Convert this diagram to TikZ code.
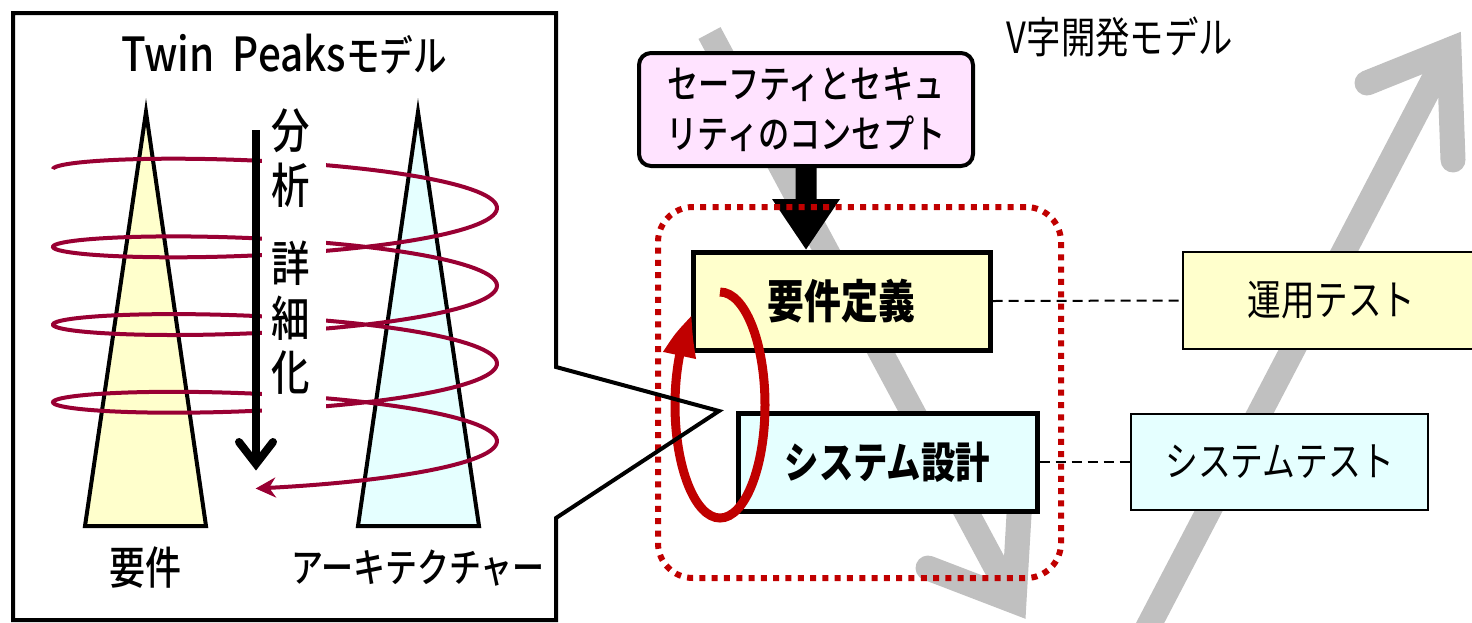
\documentclass[tikz,border=0pt]{standalone}
\usepackage{fontspec}
\usetikzlibrary{arrows.meta,bending,calc}
\newfontfamily\jp[FakeStretch=0.8]{Noto Sans CJK JP}
\IfFontExistsTF{Noto Sans CJK JP Medium}{%
  \newfontfamily\jpm[FakeStretch=0.8]{Noto Sans CJK JP Medium}%
  \newfontfamily\jplatm[FakeStretch=0.86]{Noto Sans CJK JP Medium}}{%
  \newfontfamily\jplatb[FakeStretch=0.86]{Noto Sans CJK JP}%
  \newcommand\jpm{\jp\bfseries}\newcommand\jplatm{\jplatb\bfseries}}
\newcommand\setfs[1]{\fontsize{#1}{#1}\selectfont}
\definecolor{ylw}{HTML}{FFFFCC}
\definecolor{cyn}{HTML}{E5FFFF}
\definecolor{pnk}{HTML}{FFE3FF}
\definecolor{spiralc}{HTML}{990033}
\definecolor{dred}{HTML}{C00000}
\definecolor{vgray}{HTML}{C0C0C0}
\tikzset{
  txt/.style={inner sep=0pt},
  bx/.style={draw, inner sep=0pt},
  gline/.style={vgray, line width=25pt},
  gbarb/.style={vgray, line width=25pt, line cap=round, line join=miter},
  dashline/.style={dash pattern=on 10pt off 6pt, line width=2pt},
}
\begin{document}
\begin{tikzpicture}[x=1pt,y=-1pt]
\useasboundingbox (0,0) rectangle (1472,622);
% ---------- gray V-model arrows ----------
\coordinate (ds) at (709.5,33);
\coordinate (dt) at (1014,601);
\coordinate (db1) at (928,568);
\coordinate (db2) at (1019.5,506);
\draw[gline] (ds) -- (dt);
\draw[gbarb] (db1) -- (dt) -- (db2);
\coordinate (us) at (1124,673);
\coordinate (ut) at (1449,50);
\coordinate (ub1) at (1367,83);
\coordinate (ub2) at (1453,160);
\draw[gline] (us) -- (ut);
\draw[gbarb] (ub1) -- (ut) -- (ub2);
\node[txt] (vtitle) at (1120,37) {\jp\setfs{43}V字開発モデル};
% ---------- right panel boxes ----------
\node[bx, fill=pnk, line width=4pt, rounded corners=12pt, minimum width=334pt, minimum height=113pt, align=center,
  font={\jpm\fontsize{39}{50}\selectfont}]
  (concept) at (806,109.5) {セーフティとセキュ\\リティのコンセプト};
\node[bx, fill=ylw, line width=5pt, minimum width=297pt, minimum height=98pt] (req) at (841.5,301) {\jp\bfseries\setfs{46}要件定義};
\node[bx, fill=cyn, line width=5pt, minimum width=299pt, minimum height=98pt] (sys) at (887.5,462) {\jp\bfseries\setfs{43}システム設計};
\node[bx, fill=ylw, line width=2.5pt, minimum width=297pt, minimum height=97pt] (ops) at (1331.5,300.5) {\jp\setfs{42}運用テスト};
\node[bx, fill=cyn, line width=2.5pt, minimum width=297pt, minimum height=96pt] (stest) at (1279.5,462) {\jp\setfs{41}システムテスト};
% black block arrow
\fill ($(concept.south)+(-10.5,-2)$) -- ($(concept.south)+(-10.5,31)$) -- ($(concept.south)+(-34,31)$)
  -- (concept.south |- req.north) -- ($(concept.south)+(34,31)$) -- ($(concept.south)+(10.5,31)$)
  -- ($(concept.south)+(10.5,-2)$) -- cycle;
% dashed links
\draw[dashline] (req.east) -- (ops.west);
\draw[dashline] (sys.east) -- (stest.west);
% dotted group
\node[draw=dred, line width=6pt, dash pattern=on 6pt off 6.3pt, rounded corners=35pt,
  minimum width=403pt, minimum height=371pt] (grp) at (859.5,392.5) {};
% red loop
\draw[dred, line width=9pt, -{Triangle[length=38pt,width=32pt,bend]}]
  (720,405) ++(-90:45 and 113) arc[start angle=-90, end angle=232, x radius=45, y radius=113];
% ---------- left panel ----------
\draw[line width=4pt, fill=ylw] (146,112) -- (206,526) -- (85,526) -- cycle;
\draw[line width=4pt, fill=cyn] (418,112) -- (479,526) -- (358,526) -- cycle;
\draw[spiralc, line width=4pt, -{Stealth[length=20pt,width=20pt]}]
  plot[domain=-180:1175, samples=420, variable=\t] ({275+222*cos(\t)}, {208+0.215833*\t+27*sin(\t)});
\fill[white] (262,140) rectangle (326,432);
\coordinate (as) at (256,130);
\coordinate (ae) at (256,464);
\draw[line width=8pt] (as) -- (ae);
\draw[line width=8pt, line cap=round] ($(ae)+(-17,-22)$) -- (ae) -- ($(ae)+(17,-22)$);
\node[txt, align=center, font={\jpm\fontsize{48}{54.5}\selectfont}] (analysis) at (291,252)
  {分\\析\\[24pt]詳\\細\\化};
\node[txt] (title) at (284,54) {\jplatm\setfs{47}Twin\ \ Peaks\jpm\setfs{42}モデル};
\node[txt] (lreq) at (145,568) {\jpm\setfs{45}要件};
\node[txt] (larch) at (418,568) {\jpm\setfs{40}アーキテクチャー};
% callout outline
\coordinate (ctip) at (719,411);
\draw[line width=4pt] (13,13) -- (556,13) -- (556,367) -- (ctip) -- (556,518) -- (556,620) -- (13,620) -- cycle;
\end{tikzpicture}
\end{document}
